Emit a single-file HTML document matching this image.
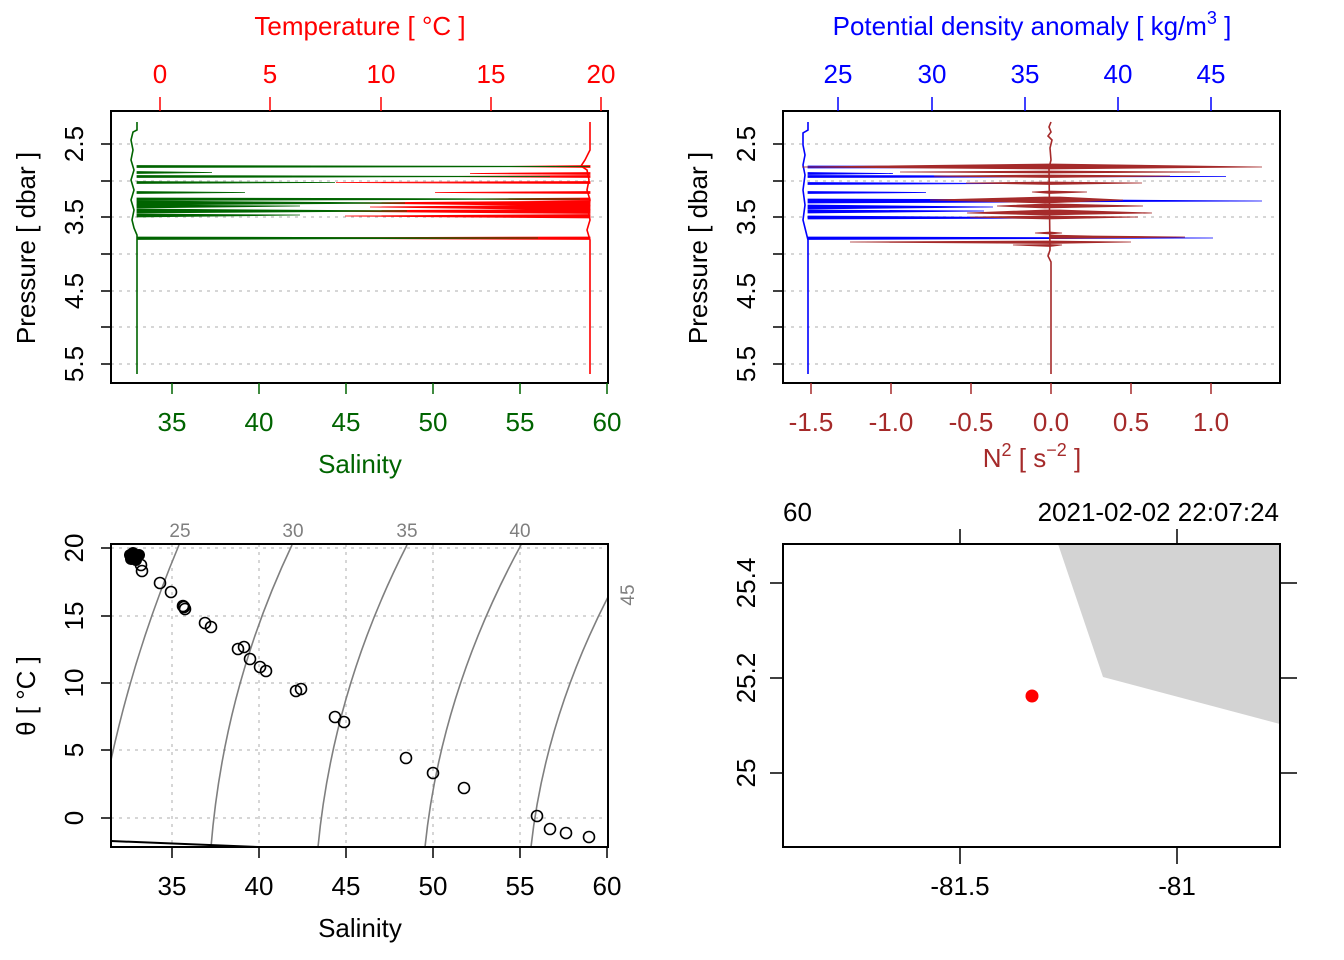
<!DOCTYPE html>
<html><head><meta charset="utf-8"><style>
html,body{margin:0;padding:0;background:#fff;}
svg{display:block;font-family:"Liberation Sans",Arial,sans-serif;}
</style></head><body>
<svg width="1344" height="960" viewBox="0 0 1344 960" xmlns="http://www.w3.org/2000/svg">
<rect width="1344" height="960" fill="#fff"/>

<!-- ============ TOP LEFT ============ -->
<g stroke="#c8c8c8" stroke-width="1.5" stroke-dasharray="3,5">
<line x1="111" y1="144" x2="608" y2="144"/><line x1="111" y1="181" x2="608" y2="181"/>
<line x1="111" y1="217" x2="608" y2="217"/><line x1="111" y1="254" x2="608" y2="254"/>
<line x1="111" y1="291" x2="608" y2="291"/><line x1="111" y1="327" x2="608" y2="327"/>
<line x1="111" y1="364" x2="608" y2="364"/>
</g>
<!-- red temperature -->
<g fill="#ff0000" stroke="#ff0000" stroke-width="0.8">
<polyline fill="none" stroke-width="1.6" points="590,122 590,150 585,160 581,166 587,170 589,180 587,190 590,200 588,210 590,220 587,230 590,240 590,374"/>
<polygon points="590,165.5 500,166.5 590,167.5"/>
<polygon points="590,172.5 470,173.5 590,174.5"/>
<polygon points="590,175.5 440,176.5 590,177.5"/>
<polygon points="590,181.5 336,182.5 590,183.5"/>
<polygon points="590,191.5 435,192.5 590,193.5"/>
<polygon points="590,198 465,199 590,200.5"/>
<polygon points="590,201 340,203 590,206"/>
<polygon points="590,205 370,207 590,210"/>
<polygon points="590,209.5 300,211 590,213.5"/>
<polygon points="590,214.5 345,216 590,218"/>
<polygon points="590,237 160,238 590,239.5"/>
</g>
<!-- green salinity -->
<g fill="#006400" stroke="#006400" stroke-width="0.8">
<polyline fill="none" stroke-width="1.6" points="137,122 137,130 133,132 131,140 133,150 131,160 134,170 131,180 134,190 131,200 134,210 132,220 134,228 137,235 137,374"/>
<polygon points="137,165.5 590,166.5 137,167.5"/>
<polygon points="137,171.5 212,172.5 137,173.5"/>
<polygon points="137,175.5 550,176.5 137,177.5"/>
<polygon points="137,181.5 335,182.5 137,183.5"/>
<polygon points="137,191.5 245,192.5 137,193.5"/>
<polygon points="137,198 580,199 137,200.5"/>
<polygon points="137,201 405,203 137,205"/>
<polygon points="137,205 300,206 137,208"/>
<polygon points="137,209 407,211 137,213"/>
<polygon points="137,214 300,215 137,217"/>
<polygon points="137,237 538,238 137,239.5"/>
</g>
<rect x="111" y="111" width="497" height="272" fill="none" stroke="#000" stroke-width="2"/>
<g stroke="#000" stroke-width="1.5">
<line x1="101" y1="144" x2="111" y2="144"/><line x1="101" y1="181" x2="111" y2="181"/>
<line x1="101" y1="217" x2="111" y2="217"/><line x1="101" y1="254" x2="111" y2="254"/>
<line x1="101" y1="291" x2="111" y2="291"/><line x1="101" y1="327" x2="111" y2="327"/>
<line x1="101" y1="364" x2="111" y2="364"/>
</g>
<g stroke="#006400" stroke-width="1.5">
<line x1="172" y1="383" x2="172" y2="394"/><line x1="259" y1="383" x2="259" y2="394"/>
<line x1="346" y1="383" x2="346" y2="394"/><line x1="433" y1="383" x2="433" y2="394"/>
<line x1="520" y1="383" x2="520" y2="394"/><line x1="607" y1="383" x2="607" y2="394"/>
</g>
<g stroke="#ff0000" stroke-width="1.5">
<line x1="160" y1="97" x2="160" y2="111"/><line x1="270" y1="97" x2="270" y2="111"/>
<line x1="381" y1="97" x2="381" y2="111"/><line x1="491" y1="97" x2="491" y2="111"/>
<line x1="601" y1="97" x2="601" y2="111"/>
</g>
<g font-size="26" fill="#ff0000" text-anchor="middle">
<text x="160" y="83">0</text><text x="270" y="83">5</text><text x="381" y="83">10</text>
<text x="491" y="83">15</text><text x="601" y="83">20</text>
<text x="360" y="35">Temperature [ °C ]</text>
</g>
<g font-size="26" fill="#006400" text-anchor="middle">
<text x="172" y="431">35</text><text x="259" y="431">40</text><text x="346" y="431">45</text>
<text x="433" y="431">50</text><text x="520" y="431">55</text><text x="607" y="431">60</text>
<text x="360" y="473">Salinity</text>
</g>
<g font-size="26" fill="#000" text-anchor="middle">
<text transform="translate(83,144) rotate(-90)">2.5</text>
<text transform="translate(83,217) rotate(-90)">3.5</text>
<text transform="translate(83,291) rotate(-90)">4.5</text>
<text transform="translate(83,364) rotate(-90)">5.5</text>
<text transform="translate(35,248) rotate(-90)">Pressure [ dbar ]</text>
</g>

<!-- ============ TOP RIGHT ============ -->
<g stroke="#c8c8c8" stroke-width="1.5" stroke-dasharray="3,5">
<line x1="783" y1="144" x2="1280" y2="144"/><line x1="783" y1="181" x2="1280" y2="181"/>
<line x1="783" y1="217" x2="1280" y2="217"/><line x1="783" y1="254" x2="1280" y2="254"/>
<line x1="783" y1="291" x2="1280" y2="291"/><line x1="783" y1="327" x2="1280" y2="327"/>
<line x1="783" y1="364" x2="1280" y2="364"/>
</g>
<!-- blue density -->
<g fill="#0000ff" stroke="#0000ff" stroke-width="0.8">
<polyline fill="none" stroke-width="1.6" points="808,122 808,130 803,133 803,145 805,155 803,165 805,175 803,190 805,205 803,220 806,232 808,240 808,374"/>
<polygon points="808,166 1240,167 808,168"/>
<polygon points="808,172.5 893,173.5 808,174.5"/>
<polygon points="808,175.5 1226,176.5 808,177.5"/>
<polygon points="808,182.5 1013,183.5 808,184.5"/>
<polygon points="808,191.5 926,192.5 808,193.5"/>
<polygon points="808,199 1110,200 1262,201 808,203"/>
<polygon points="808,205 993,207 808,209"/>
<polygon points="808,210 984,211 808,213"/>
<polygon points="808,216 1090,218 808,219"/>
<polygon points="808,237 1213,238 808,239.5"/>
</g>
<!-- brown N2 -->
<g fill="#a52a2a" stroke="#a52a2a" stroke-width="0.8">
<polyline fill="none" stroke-width="1.6" points="1051,122 1049,127 1051,132 1048,136 1052,140 1050,148 1051,160 1049,168 1050,250 1048,256 1051,262 1051,374"/>
<polygon points="1048,164 802,167 1048,169 1262,167 1054,164"/>
<polygon points="1050,171 1200,172 1050,173 900,172"/>
<polygon points="1050,175 934,176 1050,177.5 1170,176"/>
<polygon points="1050,182 966,183 1050,184.5 1142,183"/>
<polygon points="1050,191 1032,192 1050,193.5 1087,192"/>
<polygon points="1045,197 930,200 1045,203 1123,200 1060,197"/>
<polygon points="1045,204 997,206 1045,208 1143,206 1060,204"/>
<polygon points="1045,210 967,213 1045,215 1152,213 1060,210"/>
<polygon points="1048,216 970,217 1048,219 1138,217"/>
<polygon points="1050,232 1035,233 1050,234 1062,233"/>
<polygon points="1050,235 1093,236 1185,237 1050,238.5"/>
<polygon points="1050,241 850,242 1050,243.5 1131,242"/>
<polygon points="1050,244.5 1013,245 1050,246.5 1062,245"/>
</g>
<rect x="783" y="111" width="497" height="272" fill="none" stroke="#000" stroke-width="2"/>
<g stroke="#000" stroke-width="1.5">
<line x1="773" y1="144" x2="783" y2="144"/><line x1="773" y1="181" x2="783" y2="181"/>
<line x1="773" y1="217" x2="783" y2="217"/><line x1="773" y1="254" x2="783" y2="254"/>
<line x1="773" y1="291" x2="783" y2="291"/><line x1="773" y1="327" x2="783" y2="327"/>
<line x1="773" y1="364" x2="783" y2="364"/>
</g>
<g stroke="#a52a2a" stroke-width="1.5">
<line x1="811" y1="383" x2="811" y2="394"/><line x1="891" y1="383" x2="891" y2="394"/>
<line x1="971" y1="383" x2="971" y2="394"/><line x1="1051" y1="383" x2="1051" y2="394"/>
<line x1="1131" y1="383" x2="1131" y2="394"/><line x1="1211" y1="383" x2="1211" y2="394"/>
</g>
<g stroke="#0000ff" stroke-width="1.5">
<line x1="838" y1="97" x2="838" y2="111"/><line x1="932" y1="97" x2="932" y2="111"/>
<line x1="1025" y1="97" x2="1025" y2="111"/><line x1="1118" y1="97" x2="1118" y2="111"/>
<line x1="1211" y1="97" x2="1211" y2="111"/>
</g>
<g font-size="26" fill="#0000ff" text-anchor="middle">
<text x="838" y="83">25</text><text x="932" y="83">30</text><text x="1025" y="83">35</text>
<text x="1118" y="83">40</text><text x="1211" y="83">45</text>
<text x="1032" y="35">Potential density anomaly [ kg/m<tspan font-size="18" dy="-11">3</tspan><tspan dy="11"> ]</tspan></text>
</g>
<g font-size="26" fill="#a52a2a" text-anchor="middle">
<text x="811" y="431">-1.5</text><text x="891" y="431">-1.0</text><text x="971" y="431">-0.5</text>
<text x="1051" y="431">0.0</text><text x="1131" y="431">0.5</text><text x="1211" y="431">1.0</text>
<text x="1032" y="467">N<tspan font-size="18" dy="-11">2</tspan><tspan dy="11"> [ s</tspan><tspan font-size="18" dy="-11">−2</tspan><tspan dy="11"> ]</tspan></text>
</g>
<g font-size="26" fill="#000" text-anchor="middle">
<text transform="translate(755,144) rotate(-90)">2.5</text>
<text transform="translate(755,217) rotate(-90)">3.5</text>
<text transform="translate(755,291) rotate(-90)">4.5</text>
<text transform="translate(755,364) rotate(-90)">5.5</text>
<text transform="translate(707,248) rotate(-90)">Pressure [ dbar ]</text>
</g>

<!-- ============ BOTTOM LEFT ============ -->
<g stroke="#c8c8c8" stroke-width="1.5" stroke-dasharray="3,5">
<line x1="111" y1="548" x2="608" y2="548"/><line x1="111" y1="616" x2="608" y2="616"/>
<line x1="111" y1="683" x2="608" y2="683"/><line x1="111" y1="750" x2="608" y2="750"/>
<line x1="111" y1="818" x2="608" y2="818"/>
<line x1="172" y1="544" x2="172" y2="847"/><line x1="259" y1="544" x2="259" y2="847"/>
<line x1="346" y1="544" x2="346" y2="847"/><line x1="433" y1="544" x2="433" y2="847"/>
<line x1="520" y1="544" x2="520" y2="847"/>
</g>
<g fill="none" stroke="#7f7f7f" stroke-width="1.6">
<path d="M111,760 Q135,650 179,545"/>
<path d="M211,847 Q224,688 292,545"/>
<path d="M318,847 Q333,690 407,545"/>
<path d="M425,847 Q441,692 521,545"/>
<path d="M531,847 Q545,720 608,597"/>
</g>
<line x1="111" y1="841" x2="258" y2="847" stroke="#000" stroke-width="2"/>
<g font-size="19" fill="#7f7f7f" text-anchor="middle">
<text x="180" y="537">25</text><text x="293" y="537">30</text><text x="407" y="537">35</text><text x="520" y="537">40</text>
<text transform="translate(634,595) rotate(-90)">45</text>
</g>
<g fill="none" stroke="#000" stroke-width="1.6">
<circle cx="141" cy="565" r="5.5"/><circle cx="142" cy="571" r="5.5"/>
<circle cx="160" cy="583" r="5.5"/><circle cx="171" cy="592" r="5.5"/>
<circle cx="183" cy="606" r="5.5"/><circle cx="185" cy="609" r="5.5"/><circle cx="184" cy="607" r="5.5"/>
<circle cx="205" cy="623" r="5.5"/><circle cx="211" cy="627" r="5.5"/>
<circle cx="238" cy="649" r="5.5"/><circle cx="244" cy="647" r="5.5"/>
<circle cx="250" cy="659" r="5.5"/><circle cx="260" cy="667" r="5.5"/><circle cx="266" cy="671" r="5.5"/>
<circle cx="296" cy="691" r="5.5"/><circle cx="301" cy="689" r="5.5"/>
<circle cx="335" cy="717" r="5.5"/><circle cx="344" cy="722" r="5.5"/>
<circle cx="406" cy="758" r="5.5"/><circle cx="433" cy="773" r="5.5"/><circle cx="464" cy="788" r="5.5"/>
<circle cx="537" cy="816" r="5.5"/><circle cx="550" cy="829" r="5.5"/>
<circle cx="566" cy="833" r="5.5"/><circle cx="589" cy="837" r="5.5"/>
</g>
<g fill="#000">
<circle cx="130" cy="555" r="6"/><circle cx="135" cy="556" r="6"/><circle cx="139" cy="555" r="6"/>
<circle cx="131" cy="559" r="6"/><circle cx="136" cy="560" r="6"/><circle cx="133" cy="553" r="6"/>
</g>
<rect x="111" y="544" width="497" height="303" fill="none" stroke="#000" stroke-width="2"/>
<g stroke="#000" stroke-width="1.5">
<line x1="101" y1="548" x2="111" y2="548"/><line x1="101" y1="616" x2="111" y2="616"/>
<line x1="101" y1="683" x2="111" y2="683"/><line x1="101" y1="750" x2="111" y2="750"/>
<line x1="101" y1="818" x2="111" y2="818"/>
<line x1="172" y1="847" x2="172" y2="858"/><line x1="259" y1="847" x2="259" y2="858"/>
<line x1="346" y1="847" x2="346" y2="858"/><line x1="433" y1="847" x2="433" y2="858"/>
<line x1="520" y1="847" x2="520" y2="858"/><line x1="607" y1="847" x2="607" y2="858"/>
</g>
<g font-size="26" fill="#000" text-anchor="middle">
<text x="172" y="895">35</text><text x="259" y="895">40</text><text x="346" y="895">45</text>
<text x="433" y="895">50</text><text x="520" y="895">55</text><text x="607" y="895">60</text>
<text x="360" y="937">Salinity</text>
<text transform="translate(83,548) rotate(-90)">20</text>
<text transform="translate(83,616) rotate(-90)">15</text>
<text transform="translate(83,683) rotate(-90)">10</text>
<text transform="translate(83,750) rotate(-90)">5</text>
<text transform="translate(83,818) rotate(-90)">0</text>
<text transform="translate(35,696) rotate(-90)">θ [ °C ]</text>
</g>

<!-- ============ BOTTOM RIGHT ============ -->
<polygon points="1058,544 1280,544 1280,724 1103,677" fill="#d3d3d3"/>
<circle cx="1032" cy="696" r="6.5" fill="#ff0000"/>
<rect x="783" y="544" width="497" height="303" fill="none" stroke="#000" stroke-width="2"/>
<g stroke="#000" stroke-width="1.5">
<line x1="960" y1="529" x2="960" y2="544"/><line x1="1177" y1="529" x2="1177" y2="544"/>
<line x1="960" y1="847" x2="960" y2="864"/><line x1="1177" y1="847" x2="1177" y2="864"/>
<line x1="770" y1="583" x2="783" y2="583"/><line x1="770" y1="678" x2="783" y2="678"/><line x1="770" y1="773" x2="783" y2="773"/>
<line x1="1280" y1="583" x2="1297" y2="583"/><line x1="1280" y1="678" x2="1297" y2="678"/><line x1="1280" y1="773" x2="1297" y2="773"/>
</g>
<g font-size="26" fill="#000">
<text x="783" y="521">60</text>
<text x="1279" y="521" text-anchor="end">2021-02-02 22:07:24</text>
<text x="960" y="895" text-anchor="middle">-81.5</text>
<text x="1177" y="895" text-anchor="middle">-81</text>
<g text-anchor="middle">
<text transform="translate(755,583) rotate(-90)">25.4</text>
<text transform="translate(755,678) rotate(-90)">25.2</text>
<text transform="translate(755,773) rotate(-90)">25</text>
</g>
</g>
</svg>
</body></html>
